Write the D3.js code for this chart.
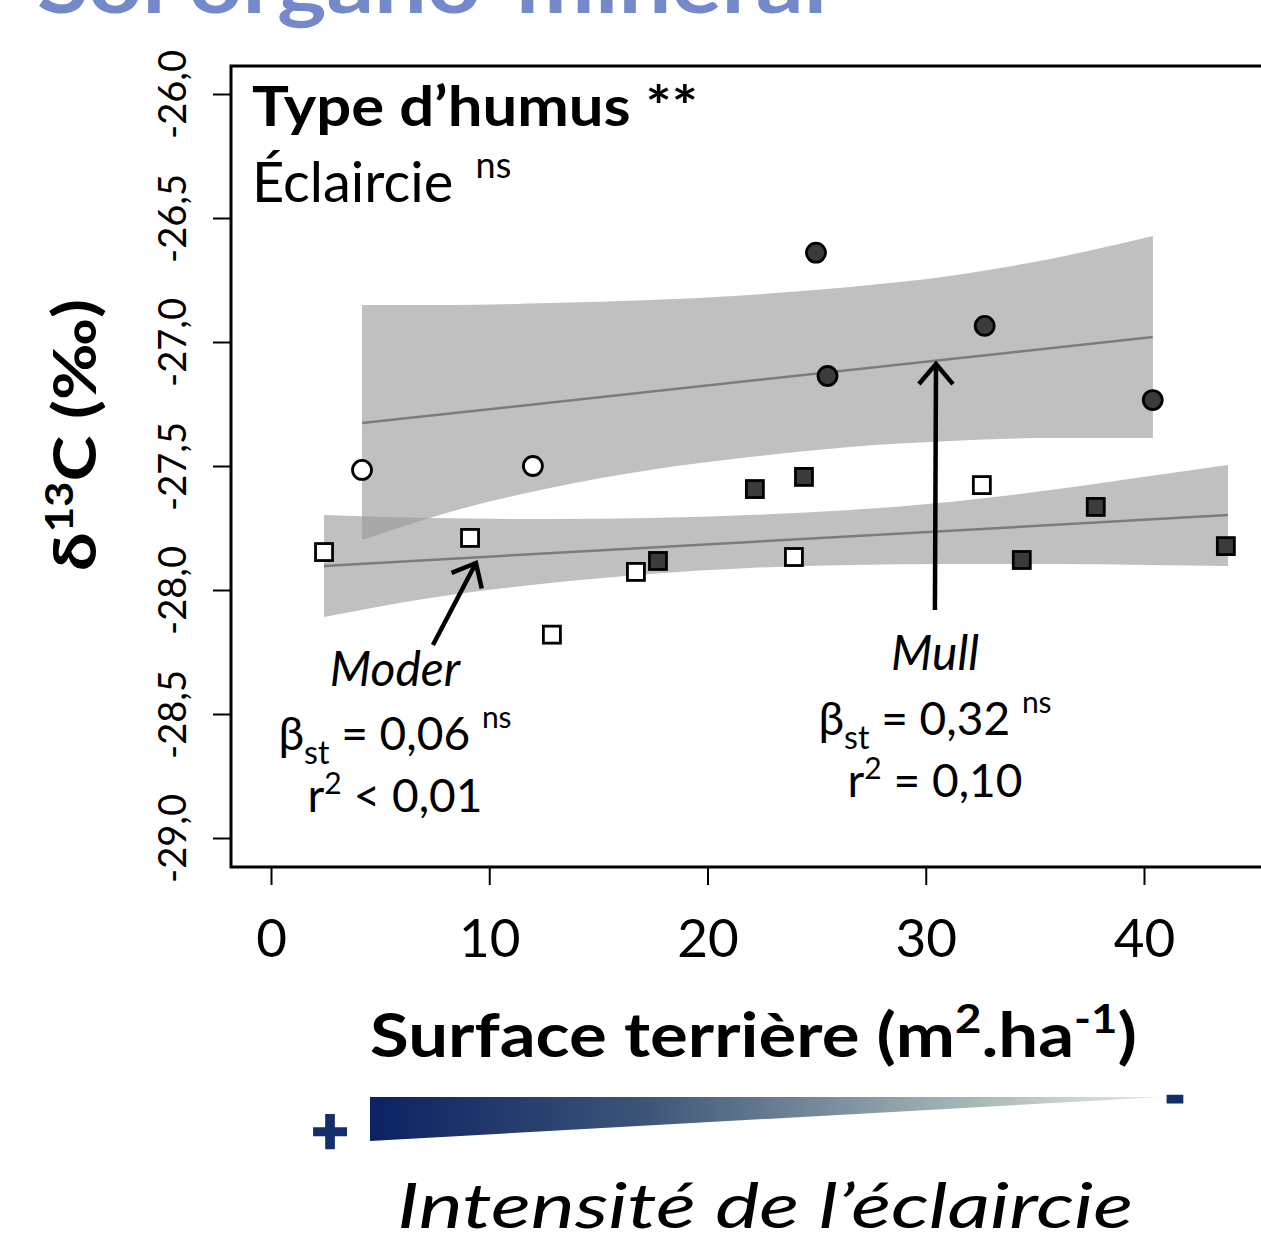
<!DOCTYPE html>
<html>
<head>
<meta charset="utf-8">
<script src="https://cdn.jsdelivr.net/npm/d3@7"></script>
<style>
  body { margin: 0; background: #fff; }
  svg { display: block; font-family: Lato, "Open Sans", sans-serif; }
</style>
</head>
<body>
<div id="chart"></div>
<script>
// δ13C vs surface terrière, by humus type (circles = Mull, squares = Moder)

const xTicks = [0, 10, 20, 30, 40];
const yTicks = [-29, -28.5, -28, -27.5, -27, -26.5, -26];
const yTickLabels = ["-29,0", "-28,5", "-28,0", "-27,5", "-27,0", "-26,5", "-26,0"];

// Mull (circles)
const mullFilledX = [24.97, 32.7, 25.5, 40.4];
const mullFilledY = [-26.64, -26.935, -27.137, -27.234];
const mullOpenX = [4.17, 12.0];
const mullOpenY = [-27.516, -27.5];

// Moder (squares)
const moderOpenX = [2.43, 9.12, 12.87, 16.72, 23.96, 32.57];
const moderOpenY = [-27.847, -27.79, -28.18, -27.927, -27.867, -27.577];
const moderFilledX = [17.73, 22.17, 24.42, 34.4, 37.79, 43.75];
const moderFilledY = [-27.883, -27.593, -27.544, -27.879, -27.665, -27.823];

// fitted lines
const mullLineX = [4.17, 40.4];
const mullLineY = [-27.327, -26.98];
const moderLineX = [2.43, 43.84];
const moderLineY = [-27.903, -27.698];

// confidence bands
const mullBandX = [4.17, 8.2, 12.78, 17.36, 21.94, 26.52, 31.1, 35.7, 40.41];
const mullBandHi = [-26.851, -26.851, -26.843, -26.831, -26.81, -26.778, -26.734, -26.665, -26.573];
const mullBandLo = [-27.798, -27.685, -27.589, -27.516, -27.464, -27.423, -27.399, -27.387, -27.387];
const moderBandX = [2.43, 7.29, 12.78, 17.36, 21.94, 26.52, 31.1, 35.7, 40.28, 43.85];
const moderBandHi = [-27.698, -27.71, -27.714, -27.71, -27.698, -27.677, -27.645, -27.597, -27.54, -27.496];
const moderBandLo = [-28.109, -28.032, -27.972, -27.935, -27.911, -27.899, -27.895, -27.895, -27.899, -27.903];

const W = 1261, H = 1240;
const frame = { left: 231, top: 66, right: 1266, bottom: 867 };

const svg = d3.select("#chart").append("svg")
    .attr("width", W)
    .attr("height", H);

const x = d3.scaleLinear().domain([0, 40]).range([271, 1144]);
const y = d3.scaleLinear().domain([-26, -29]).range([94, 838]);

// slide title, cut by the top of the picture (as in the original)
svg.append("text")
    .attr("x", 37).attr("y", 13)
    .attr("font-size", 82).attr("font-weight", 700)
    .attr("fill", "#7389c9")
    .attr("textLength", 790).attr("lengthAdjust", "spacingAndGlyphs")
    .text("Sol organo-minéral");

// bands
const zip = (xs, hi, lo) => xs.map((v, i) => ({ x: v, hi: hi[i], lo: lo[i] }));
const area = d3.area()
    .x(d => x(d.x))
    .y0(d => y(d.lo))
    .y1(d => y(d.hi))
    .curve(d3.curveMonotoneX);

svg.append("path")
    .datum(zip(mullBandX, mullBandHi, mullBandLo))
    .attr("d", area)
    .attr("fill", "#9a9a9a").attr("fill-opacity", 0.62);
svg.append("path")
    .datum(zip(moderBandX, moderBandHi, moderBandLo))
    .attr("d", area)
    .attr("fill", "#9a9a9a").attr("fill-opacity", 0.62);

// fitted lines
const line = d3.line().x(d => x(d[0])).y(d => y(d[1]));
[[mullLineX, mullLineY], [moderLineX, moderLineY]].forEach(([xs, ys]) => {
    svg.append("path")
        .datum(xs.map((v, i) => [v, ys[i]]))
        .attr("d", line)
        .attr("fill", "none")
        .attr("stroke", "#7c7c7c")
        .attr("stroke-width", 2.5);
});

// points
function circles(xs, ys, fill) {
    svg.append("g").selectAll("circle")
        .data(xs.map((v, i) => [v, ys[i]]))
        .join("circle")
        .attr("cx", d => x(d[0]))
        .attr("cy", d => y(d[1]))
        .attr("r", 9.5)
        .attr("fill", fill)
        .attr("stroke", "#000")
        .attr("stroke-width", 2.8);
}
function squares(xs, ys, fill) {
    const s = 17;
    svg.append("g").selectAll("rect")
        .data(xs.map((v, i) => [v, ys[i]]))
        .join("rect")
        .attr("x", d => x(d[0]) - s / 2)
        .attr("y", d => y(d[1]) - s / 2)
        .attr("width", s).attr("height", s)
        .attr("fill", fill)
        .attr("stroke", "#000")
        .attr("stroke-width", 2.8);
}
circles(mullOpenX, mullOpenY, "#fff");
circles(mullFilledX, mullFilledY, "#3b3b3b");
squares(moderOpenX, moderOpenY, "#fff");
squares(moderFilledX, moderFilledY, "#3b3b3b");

// frame
svg.append("rect")
    .attr("x", frame.left).attr("y", frame.top)
    .attr("width", frame.right - frame.left)
    .attr("height", frame.bottom - frame.top)
    .attr("fill", "none")
    .attr("stroke", "#000")
    .attr("stroke-width", 3);

// axes
const yAxis = svg.append("g")
    .attr("transform", `translate(${frame.left},0)`)
    .call(d3.axisLeft(y).tickValues(yTicks).tickSize(18).tickFormat((d, i) => yTickLabels[i]));
yAxis.select(".domain").remove();
yAxis.selectAll("line").attr("stroke", "#000").attr("stroke-width", 2);
yAxis.selectAll("text")
    .attr("transform", "rotate(-90)")
    .attr("x", 0).attr("y", -45).attr("dy", 0)
    .attr("text-anchor", "middle")
    .attr("font-size", 38)
    .attr("font-family", "Lato, sans-serif")
    .attr("fill", "#000");

const xAxis = svg.append("g")
    .attr("transform", `translate(0,${frame.bottom})`)
    .call(d3.axisBottom(x).tickValues(xTicks).tickSize(18).tickFormat(d3.format("d")));
xAxis.select(".domain").remove();
xAxis.selectAll("line").attr("stroke", "#000").attr("stroke-width", 2);
xAxis.selectAll("text")
    .attr("y", 90).attr("dy", 0)
    .attr("font-size", 53)
    .attr("font-family", "Lato, sans-serif")
    .attr("fill", "#000");

// arrows
const defs = svg.append("defs");
defs.append("marker")
    .attr("id", "chev")
    .attr("viewBox", "-26 -22 30 44")
    .attr("markerUnits", "userSpaceOnUse")
    .attr("markerWidth", 30).attr("markerHeight", 44)
    .attr("refX", 0).attr("refY", 0)
    .attr("orient", "auto")
    .append("path")
    .attr("d", "M-20,-17L0,0L-20,17")
    .attr("fill", "none")
    .attr("stroke", "#000")
    .attr("stroke-width", 4.5);

const arrows = [
    { x1: 7.42, y1: -28.222, x2: 9.39, y2: -27.891 },
    { x1: 30.42, y1: -28.081, x2: 30.47, y2: -27.089 }
];
svg.append("g").selectAll("line")
    .data(arrows)
    .join("line")
    .attr("x1", d => x(d.x1)).attr("y1", d => y(d.y1))
    .attr("x2", d => x(d.x2)).attr("y2", d => y(d.y2))
    .attr("stroke", "#000")
    .attr("stroke-width", 4.5)
    .attr("marker-end", "url(#chev)");

// text inside the plot
svg.append("text")
    .attr("x", 252).attr("y", 126)
    .attr("font-size", 56).attr("font-weight", 700)
    .attr("textLength", 446).attr("lengthAdjust", "spacingAndGlyphs")
    .text("Type d’humus **");

const t2 = svg.append("text")
    .attr("x", 252).attr("y", 202)
    .attr("font-size", 56);
t2.append("tspan").text("Éclaircie ");
t2.append("tspan").attr("font-size", 36).attr("dx", 8).attr("dy", -24).text("ns");

function stats(cx, yName, yBeta, yR, name, beta, r2) {
    svg.append("text")
        .attr("x", cx).attr("y", yName)
        .attr("text-anchor", "middle")
        .attr("font-size", 48).attr("font-style", "italic")
        .text(name);
    const b = svg.append("text")
        .attr("x", cx).attr("y", yBeta)
        .attr("text-anchor", "middle")
        .attr("font-size", 46);
    b.append("tspan").text("β");
    b.append("tspan").attr("font-size", 32).attr("dy", 14).text("st");
    b.append("tspan").attr("dy", -14).text(" = " + beta + " ");
    b.append("tspan").attr("font-size", 30).attr("dy", -22).text("ns");
    const r = svg.append("text")
        .attr("x", cx).attr("y", yR)
        .attr("text-anchor", "middle")
        .attr("font-size", 46);
    r.append("tspan").text("r");
    r.append("tspan").attr("font-size", 30).attr("dy", -18).text("2");
    r.append("tspan").attr("dy", 18).text(r2);
}
stats(395, 686, 750, 812, "Moder", "0,06", " < 0,01");
stats(935, 670, 735, 797, "Mull", "0,32", " = 0,10");

// axis titles
const yt = svg.append("text")
    .attr("transform", "translate(96,435) rotate(-90)")
    .attr("x", -136)
    .attr("font-size", 60).attr("font-weight", 700)
    .attr("textLength", 272).attr("lengthAdjust", "spacingAndGlyphs");
yt.append("tspan").text("δ");
yt.append("tspan").attr("font-size", 38).attr("dy", -23).text("13");
yt.append("tspan").attr("dy", 23).text("C (‰)");

const xt = svg.append("text")
    .attr("x", 370).attr("y", 1057)
    .attr("font-size", 62).attr("font-weight", 700)
    .attr("textLength", 767).attr("lengthAdjust", "spacingAndGlyphs");
xt.append("tspan").text("Surface terrière (m");
xt.append("tspan").attr("font-size", 40).attr("dy", -24).text("2");
xt.append("tspan").attr("dy", 24).text(".ha");
xt.append("tspan").attr("font-size", 40).attr("dy", -24).text("-1");
xt.append("tspan").attr("dy", 24).text(")");

// thinning intensity wedge
const grad = defs.append("linearGradient")
    .attr("id", "wedge")
    .attr("x1", "0%").attr("x2", "100%");
[["0%", "#0a2262"], ["35%", "#3e5579"], ["65%", "#8b9fa6"], ["100%", "#e4eedc"]].forEach(([o, c]) => {
    grad.append("stop").attr("offset", o).attr("stop-color", c);
});
svg.append("path")
    .attr("d", "M370,1097L1162,1097L370,1141Z")
    .attr("fill", "url(#wedge)");

svg.append("text")
    .attr("x", 330).attr("y", 1153)
    .attr("text-anchor", "middle")
    .attr("font-size", 64).attr("font-weight", 900)
    .attr("fill", "#142d6b")
    .attr("stroke", "#142d6b").attr("stroke-width", 2.5)
    .text("+");
svg.append("text")
    .attr("x", 1175).attr("y", 1115)
    .attr("text-anchor", "middle")
    .attr("font-size", 52).attr("font-weight", 900)
    .attr("fill", "#142d6b")
    .attr("stroke", "#142d6b").attr("stroke-width", 3)
    .text("-");

svg.append("text")
    .attr("x", 397).attr("y", 1228)
    .attr("font-size", 62).attr("font-style", "italic")
    .attr("textLength", 736).attr("lengthAdjust", "spacingAndGlyphs")
    .text("Intensité de l’éclaircie");
</script>
</body>
</html>
